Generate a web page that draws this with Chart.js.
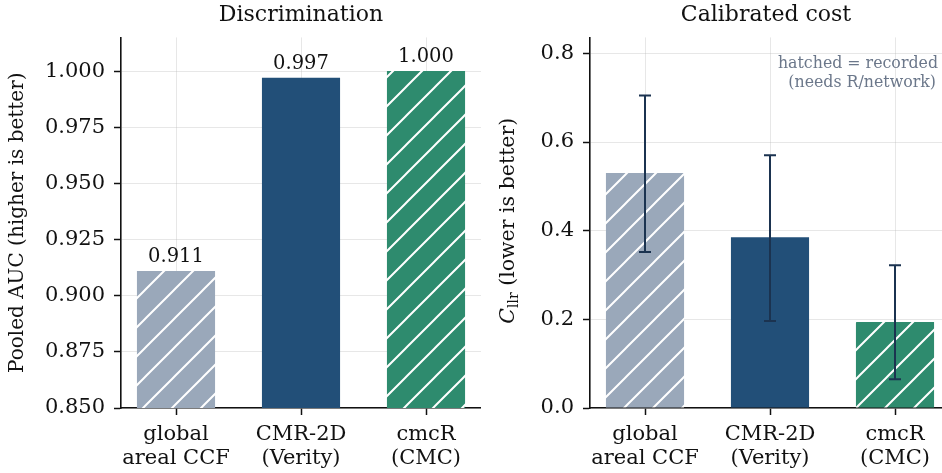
<!DOCTYPE html>
<html>
<head>
<meta charset="utf-8">
<script src="https://cdn.jsdelivr.net/npm/chart.js@4.4.1/dist/chart.umd.min.js"></script>
<style>
  html, body { margin: 0; padding: 0; background: #fff; overflow: hidden; }
  #wrap { position: relative; width: 942px; height: 473px; }
  .panel { position: absolute; top: 0; height: 473px; }
  #left { left: 0; width: 481px; }
  #right { left: 481px; width: 461px; }
</style>
</head>
<body>
<div id="wrap">
  <div class="panel" id="left"><canvas id="aucChart"></canvas></div>
  <div class="panel" id="right"><canvas id="cllrChart"></canvas></div>
</div>
<script>
// data
const methods = [["global", "areal CCF"], ["CMR-2D", "(Verity)"], ["cmcR", "(CMC)"]];
const pooledAuc = [0.911, 0.997, 1.000];
const cllr = [0.530, 0.385, 0.194];
const cllrLow = [0.352, 0.196, 0.065];
const cllrHigh = [0.705, 0.570, 0.322];
const aucTicks = [0.850, 0.875, 0.900, 0.925, 0.950, 0.975, 1.000];
const cllrTicks = [0.0, 0.2, 0.4, 0.6, 0.8];
const hatched = [true, false, true];
const barColors = ["#9aa8ba", "#224f78", "#2e8b6e"];

const serif = "'DejaVu Serif', serif";
const ink = "#111";
const gridColor = "rgba(176,176,176,0.3)";

// white "/" hatch on top of the bar colour
function hatch(color) {
  const s = 29;
  const c = document.createElement("canvas");
  c.width = s; c.height = s;
  const g = c.getContext("2d");
  g.fillStyle = color;
  g.fillRect(0, 0, s, s);
  g.strokeStyle = "#fff";
  g.lineWidth = 2;
  g.beginPath();
  g.moveTo(-2, s + 2); g.lineTo(s + 2, -2);
  g.moveTo(-2, 2); g.lineTo(2, -2);
  g.moveTo(s - 2, s + 2); g.lineTo(s + 2, s - 2);
  g.stroke();
  return g.createPattern(c, "repeat");
}
const fills = barColors.map((c, i) => (hatched[i] ? hatch(c) : c));

function xAxis(max) {
  return {
    type: "linear",
    min: -0.44,
    max: max,
    offset: false,
    z: 1,
    afterBuildTicks: (s) => { s.ticks = methods.map((m, i) => ({ value: i })); },
    afterFit: (s) => { s.height = 65; },
    ticks: {
      callback: (v) => methods[v],
      font: { family: serif, size: 21, lineHeight: 1.13 },
      color: ink,
      padding: 8,
      maxRotation: 0,
      autoSkip: false,
    },
    grid: { offset: false, color: gridColor, lineWidth: 1, tickLength: 7, tickColor: ink, tickWidth: 1.5 },
    border: { color: ink, width: 1.6 },
  };
}

function yAxis(min, max, tickVals, digits, width) {
  return {
    min: min,
    max: max,
    z: 1,
    afterBuildTicks: (s) => { s.ticks = tickVals.map((v) => ({ value: v })); },
    afterFit: (s) => { s.width = width; },
    ticks: {
      callback: (v) => v.toFixed(digits),
      font: { family: serif, size: 21 },
      color: ink,
      padding: 9,
    },
    grid: { color: gridColor, lineWidth: 1, tickLength: 7, tickColor: ink, tickWidth: 1.5 },
    border: { color: ink, width: 1.6 },
  };
}

function panelTitle(text) {
  return {
    display: true,
    text: text,
    fullSize: false,
    color: ink,
    font: { family: serif, size: 22, weight: "normal" },
    padding: { top: 2, bottom: 9 },
  };
}

// value labels above the AUC bars
const aucLabels = {
  id: "aucLabels",
  afterDraw(chart) {
    const ctx = chart.ctx;
    const meta = chart.getDatasetMeta(0);
    ctx.save();
    ctx.font = "19.5px " + serif;
    ctx.fillStyle = ink;
    ctx.textAlign = "center";
    ctx.textBaseline = "alphabetic";
    meta.data.forEach((bar, i) => {
      ctx.fillText(pooledAuc[i].toFixed(3), bar.x, bar.y - 9);
    });
    ctx.restore();
  },
};

// error bars, C_llr axis title and the note on the right panel
const cllrExtras = {
  id: "cllrExtras",
  afterDraw(chart) {
    const ctx = chart.ctx;
    const y = chart.scales.y;
    const meta = chart.getDatasetMeta(0);
    const area = chart.chartArea;
    ctx.save();

    ctx.strokeStyle = "#1b3350";
    ctx.lineWidth = 2;
    meta.data.forEach((bar, i) => {
      const lo = y.getPixelForValue(cllrLow[i]);
      const hi = y.getPixelForValue(cllrHigh[i]);
      ctx.beginPath();
      ctx.moveTo(bar.x, lo); ctx.lineTo(bar.x, hi);
      ctx.moveTo(bar.x - 6, lo); ctx.lineTo(bar.x + 6, lo);
      ctx.moveTo(bar.x - 6, hi); ctx.lineTo(bar.x + 6, hi);
      ctx.stroke();
    });

    // rotated axis title with subscript
    const big = "20.5px " + serif;
    const ital = "italic 20.5px " + serif;
    const small = "14px " + serif;
    ctx.fillStyle = ink;
    ctx.textBaseline = "middle";
    ctx.textAlign = "left";
    ctx.font = ital; const wC = ctx.measureText("C").width;
    ctx.font = small; const wS = ctx.measureText("llr").width;
    ctx.font = big; const wR = ctx.measureText(" (lower is better)").width;
    ctx.translate(28, (area.top + area.bottom) / 2 - 2);
    ctx.rotate(-Math.PI / 2);
    let x0 = -(wC + wS + wR) / 2;
    ctx.font = ital; ctx.fillText("C", x0, 0); x0 += wC;
    ctx.font = small; ctx.fillText("llr", x0, 5); x0 += wS;
    ctx.font = big; ctx.fillText(" (lower is better)", x0, 0);
    ctx.setTransform(1, 0, 0, 1, 0, 0);

    ctx.font = "15.8px " + serif;
    ctx.fillStyle = "#6b778a";
    ctx.textAlign = "right";
    ctx.textBaseline = "alphabetic";
    ctx.fillText("hatched = recorded", area.right - 4, 68);
    ctx.fillText("(needs R/network)", area.right - 6, 87);
    ctx.restore();
  },
};

const aucChart = new Chart(document.querySelector("#aucChart"), {
  type: "bar",
  data: {
    datasets: [
      {
        data: pooledAuc.map((v, i) => ({ x: i, y: v })),
        backgroundColor: fills,
        borderWidth: 0,
        categoryPercentage: 1,
        barPercentage: 0.625,
      },
    ],
  },
  options: {
    responsive: true,
    maintainAspectRatio: false,
    animation: false,
    layout: { padding: 0 },
    plugins: {
      title: panelTitle("Discrimination"),
      legend: { display: false },
      tooltip: { enabled: false },
    },
    scales: {
      x: xAxis(2.44),
      y: Object.assign(yAxis(0.85, 1.015, aucTicks, 3, 121), {
        title: {
          display: true,
          text: "Pooled AUC (higher is better)",
          color: ink,
          font: { family: serif, size: 20 },
          padding: { top: 6, bottom: 0 },
        },
      }),
    },
  },
  plugins: [aucLabels],
});

const cllrChart = new Chart(document.querySelector("#cllrChart"), {
  type: "bar",
  data: {
    datasets: [
      {
        data: cllr.map((v, i) => ({ x: i, y: v })),
        backgroundColor: fills,
        borderWidth: 0,
        categoryPercentage: 1,
        barPercentage: 0.625,
      },
    ],
  },
  options: {
    responsive: true,
    maintainAspectRatio: false,
    animation: false,
    layout: { padding: 0 },
    plugins: {
      title: panelTitle("Calibrated cost"),
      legend: { display: false },
      tooltip: { enabled: false },
    },
    scales: {
      x: xAxis(2.376),
      y: yAxis(0, 0.836, cllrTicks, 1, 109),
    },
  },
  plugins: [cllrExtras],
});
</script>
</body>
</html>
